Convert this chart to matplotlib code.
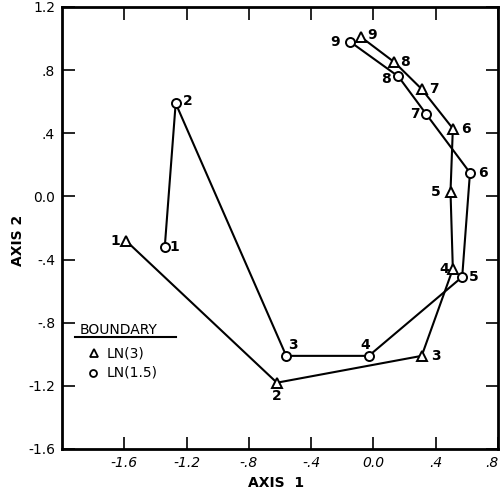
import matplotlib
matplotlib.use("Agg")
import matplotlib.pyplot as plt
from matplotlib.lines import Line2D

# LN(3) boundary (triangles) and LN(1.5) boundary (circles), points 1..9
tri_x = [-1.59, -0.62, 0.31, 0.51, 0.495, 0.51, 0.31, 0.135, -0.08]
tri_y = [-0.28, -1.18, -1.01, -0.46, 0.03, 0.43, 0.68, 0.85, 1.01]
circ_x = [-1.34, -1.27, -0.56, -0.03, 0.57, 0.62, 0.34, 0.16, -0.15]
circ_y = [-0.32, 0.59, -1.01, -1.01, -0.51, 0.15, 0.52, 0.76, 0.98]
point_labels = ["1", "2", "3", "4", "5", "6", "7", "8", "9"]

x_ticks = [-1.6, -1.2, -0.8, -0.4, 0.0, 0.4, 0.8]
x_tick_labels = ["-1.6", "-1.2", "-.8", "-.4", "0.0", ".4", ".8"]
y_ticks = [-1.6, -1.2, -0.8, -0.4, 0.0, 0.4, 0.8, 1.2]
y_tick_labels = ["-1.6", "-1.2", "-.8", "-.4", "0.0", ".4", ".8", "1.2"]

# label offsets in pixels (dx, dy) for each point
tri_offsets = [(-11, 0), (0, -13), (14, 0), (-9, 0), (-15, 0),
               (13, 0), (12, 0), (11, 0), (11, 2)]
circ_offsets = [(10, 0), (12, 2), (7, 11), (-4, 11), (12, 0),
                (13, 0), (-11, 0), (-12, -3), (-15, 0)]

fig = plt.figure(figsize=(5.03, 4.92), dpi=100)
ax = fig.add_axes([62/503, 1 - 449/492, 436/503, 442/492])

line_kw = dict(color="black", lw=1.5, markersize=6.5, markerfacecolor="white",
               markeredgecolor="black", markeredgewidth=1.4)
ax.plot(tri_x, tri_y, marker="^", **line_kw)
ax.plot(circ_x, circ_y, marker="o", **line_kw)

for xs, ys, offs in [(tri_x, tri_y, tri_offsets), (circ_x, circ_y, circ_offsets)]:
    for x, y, lab, (dx, dy) in zip(xs, ys, point_labels, offs):
        ax.annotate(lab, (x, y), xytext=(dx, dy), textcoords="offset pixels",
                    ha="center", va="center", fontsize=10, fontweight="bold")

ax.set_xlim(-2.0, 0.8)
ax.set_ylim(-1.6, 1.2)
ax.set_xticks(x_ticks)
ax.set_xticklabels(x_tick_labels, style="italic")
ax.get_xticklabels()[-1].set_horizontalalignment("right")
ax.set_yticks(y_ticks)
ax.set_yticklabels(y_tick_labels)
ax.tick_params(direction="in", length=9, width=1.2, top=True, right=True,
               labelsize=10, pad=5)
for s in ax.spines.values():
    s.set_linewidth(2)

fig.text(276/503, 1 - 483/492, "AXIS  1", ha="center", va="center",
         fontsize=10, fontweight="bold")
fig.text(18/503, 1 - 240/492, "AXIS 2", ha="center", va="center",
         rotation=90, fontsize=10, fontweight="bold")

# hand-drawn legend
ax.text(0.041, 0.269, "BOUNDARY", transform=ax.transAxes, ha="left",
        va="center", fontsize=10)
ax.add_line(Line2D([0.030, 0.261], [0.253, 0.253], transform=ax.transAxes,
                   color="black", lw=1.5))
ax.plot([0.073], [0.217], marker="^", transform=ax.transAxes, color="black",
        markersize=6, markerfacecolor="white", markeredgewidth=1.3, clip_on=False)
ax.text(0.103, 0.217, "LN(3)", transform=ax.transAxes, ha="left", va="center",
        fontsize=10)
ax.plot([0.071], [0.172], marker="o", transform=ax.transAxes, color="black",
        markersize=5, markerfacecolor="white", markeredgewidth=1.3, clip_on=False)
ax.text(0.103, 0.172, "LN(1.5)", transform=ax.transAxes, ha="left", va="center",
        fontsize=10)

fig.savefig("out.png", dpi=100)
